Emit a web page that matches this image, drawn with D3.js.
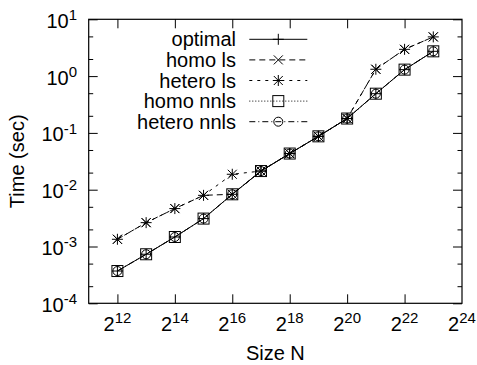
<!DOCTYPE html>
<html>
<head>
<meta charset="utf-8">
<script src="https://cdn.jsdelivr.net/npm/d3@7/dist/d3.min.js"></script>
<style>
  html, body { margin: 0; padding: 0; background: #fff; }
  svg { display: block; }
  text { font-family: "Liberation Sans", Arial, sans-serif; fill: #000; }
</style>
</head>
<body>
<svg id="chart" width="477" height="365"></svg>
<script>
// ---- data ----
const sizes = [4096, 8192, 16384, 32768, 65536, 131072, 262144, 524288, 1048576, 2097152, 4194304, 8388608];
const optimal    = [3.7e-4, 7.3e-4, 1.47e-3, 3.1e-3, 8.3e-3, 0.0213, 0.0433, 0.087, 0.179, 0.49, 1.30, 2.73];
const homoLs     = [1.34e-3, 2.63e-3, 4.65e-3, 7.96e-3, 8.3e-3, 0.0213, 0.0433, 0.087, 0.179, 1.32, 2.96, 4.9];
const heteroLs   = [1.34e-3, 2.63e-3, 4.65e-3, 7.96e-3, 0.0187, 0.0213, 0.0433, 0.087, 0.179, 1.32, 2.96, 4.9];
const homoNnls   = [3.7e-4, 7.3e-4, 1.47e-3, 3.1e-3, 8.3e-3, 0.0213, 0.0433, 0.087, 0.179, 0.49, 1.30, 2.73];
const heteroNnls = [3.7e-4, 7.3e-4, 1.47e-3, 3.1e-3, 8.3e-3, 0.0213, 0.0433, 0.087, 0.179, 0.49, 1.30, 2.73];
const seriesNames = ["optimal", "homo ls", "hetero ls", "homo nnls", "hetero nnls"];
const xTickExps = [12, 14, 16, 18, 20, 22, 24];
const yTickExps = [-4, -3, -2, -1, 0, 1];
const yMinorTicks = [2e-4, 5e-4, 2e-3, 5e-3, 2e-2, 5e-2, 2e-1, 5e-1, 2, 5];

// ---- layout ----
const L = 88.7, R = 462, T = 19.3, B = 303.3;
const svg = d3.select("#chart");
const x = d3.scaleLog().base(2).domain([Math.pow(2, 11), Math.pow(2, 24)]).range([L, R]);
const y = d3.scaleLog().base(10).domain([1e-4, 10]).range([B, T]);

const styles = [
  { dash: null,      marker: "plus" },
  { dash: "6,4",     marker: "cross" },
  { dash: "3,5",     marker: "star" },
  { dash: "1,2",     marker: "square" },
  { dash: "6,3,1,3", marker: "circle" }
];
const allSeries = [optimal, homoLs, heteroLs, homoNnls, heteroNnls];

// ---- axes (ticks inward) ----
const xVals = xTickExps.map(e => Math.pow(2, e));
const yVals = yTickExps.map(e => Math.pow(10, e));

function styleAxis(g) {
  g.select(".domain").remove();
  g.selectAll("line").attr("stroke", "#000").attr("stroke-width", 1);
  g.selectAll("text").remove();
}
svg.append("g").attr("transform", `translate(0,${B})`)
  .call(d3.axisBottom(x).tickValues(xVals.slice(0, -1)).tickSize(-9)).call(styleAxis);
svg.append("g").attr("transform", `translate(0,${T})`)
  .call(d3.axisTop(x).tickValues(xVals.slice(0, -1)).tickSize(-9)).call(styleAxis);
svg.append("g").attr("transform", `translate(${L},0)`)
  .call(d3.axisLeft(y).tickValues(yVals).tickSize(-9)).call(styleAxis);
svg.append("g").attr("transform", `translate(${R},0)`)
  .call(d3.axisRight(y).tickValues(yVals).tickSize(-9)).call(styleAxis);
svg.append("g").attr("transform", `translate(${L},0)`)
  .call(d3.axisLeft(y).tickValues(yMinorTicks).tickSize(-4.5)).call(styleAxis);
svg.append("g").attr("transform", `translate(${R},0)`)
  .call(d3.axisRight(y).tickValues(yMinorTicks).tickSize(-4.5)).call(styleAxis);

// tick labels with superscripts
xTickExps.forEach(e => {
  const t = svg.append("text").attr("x", x(Math.pow(2, e))).attr("y", B + 28)
    .attr("text-anchor", "middle").attr("font-size", 20);
  t.append("tspan").text("2");
  t.append("tspan").attr("dy", -8).attr("font-size", 15).text(String(e));
});
yTickExps.forEach(e => {
  const t = svg.append("text").attr("x", 77).attr("y", y(Math.pow(10, e)) + 8.5)
    .attr("text-anchor", "end").attr("font-size", 20);
  t.append("tspan").text("10");
  t.append("tspan").attr("dy", -7.8).attr("font-size", 15).text(String(e));
});

// border
svg.append("rect").attr("x", L).attr("y", T).attr("width", R - L).attr("height", B - T)
  .attr("fill", "none").attr("stroke", "#000").attr("stroke-width", 1.2);

// axis titles
svg.append("text").attr("x", (L + R) / 2).attr("y", 360).attr("text-anchor", "middle")
  .attr("font-size", 20).text("Size N");
svg.append("text").attr("transform", `translate(24,${(T + B) / 2}) rotate(-90)`)
  .attr("text-anchor", "middle").attr("font-size", 20).text("Time (sec)");

// ---- markers ----
function drawMarker(g, type, cx, cy) {
  const s = "#000";
  if (type === "plus" || type === "star") {
    g.append("line").attr("x1", cx - 5.5).attr("x2", cx + 5.5).attr("y1", cy).attr("y2", cy).attr("stroke", s);
    g.append("line").attr("x1", cx).attr("x2", cx).attr("y1", cy - 5.5).attr("y2", cy + 5.5).attr("stroke", s);
  }
  if (type === "cross" || type === "star") {
    g.append("line").attr("x1", cx - 4.5).attr("x2", cx + 4.5).attr("y1", cy - 4.5).attr("y2", cy + 4.5).attr("stroke", s);
    g.append("line").attr("x1", cx - 4.5).attr("x2", cx + 4.5).attr("y1", cy + 4.5).attr("y2", cy - 4.5).attr("stroke", s);
  }
  if (type === "square") {
    g.append("rect").attr("x", cx - 5.5).attr("y", cy - 5.5).attr("width", 11).attr("height", 11)
      .attr("fill", "none").attr("stroke", s);
  }
  if (type === "circle") {
    g.append("circle").attr("cx", cx).attr("cy", cy).attr("r", 4.5).attr("fill", "none").attr("stroke", s);
  }
}

// ---- series ----
const line = d3.line().x(d => x(d[0])).y(d => y(d[1]));
allSeries.forEach((vals, i) => {
  const g = svg.append("g");
  const pts = sizes.map((n, j) => [n, vals[j]]);
  g.append("path").attr("d", line(pts)).attr("fill", "none").attr("stroke", "#000")
    .attr("stroke-width", 1).attr("stroke-dasharray", styles[i].dash);
  pts.forEach(p => drawMarker(g, styles[i].marker, x(p[0]), y(p[1])));
});

// ---- legend ----
const legY0 = 39.3, legDy = 20.6;
seriesNames.forEach((name, i) => {
  const ly = legY0 + i * legDy;
  const g = svg.append("g");
  g.append("text").attr("x", 236).attr("y", ly + 7).attr("text-anchor", "end")
    .attr("font-size", 20).text(name);
  g.append("line").attr("x1", 249.3).attr("x2", 307.3).attr("y1", ly).attr("y2", ly)
    .attr("stroke", "#000").attr("stroke-width", 1).attr("stroke-dasharray", styles[i].dash);
  drawMarker(g, styles[i].marker, 278.3, ly);
});
</script>
</body>
</html>
